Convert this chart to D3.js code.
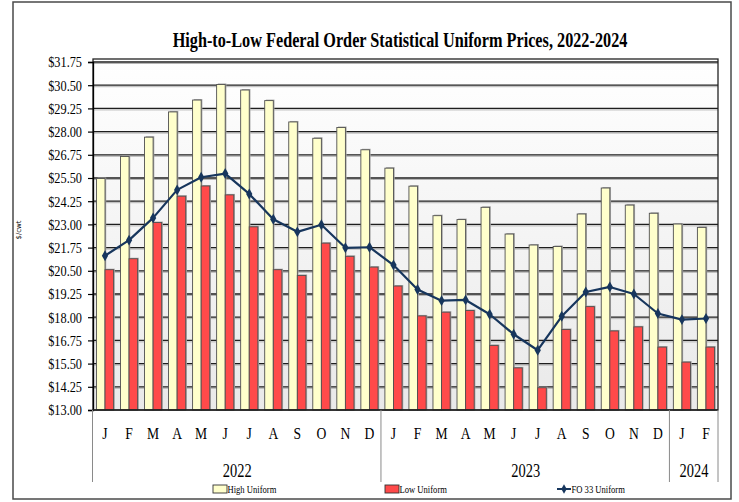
<!DOCTYPE html>
<html>
<head>
<meta charset="utf-8">
<script src="https://cdn.jsdelivr.net/npm/d3@7"></script>
<style>
  body { margin: 0; background: #fff; }
  text { font-family: "Liberation Serif", "Times New Roman", serif; fill: #000; }
</style>
</head>
<body>
<div id="chart"></div>
<script>
// month letters, one per bar group
let months = ['J','F','M','A','M','J','J','A','S','O','N','D',
              'J','F','M','A','M','J','J','A','S','O','N','D',
              'J','F'];
let yearLabels = ['2022','2023','2024'];
let yearCounts = [12, 12, 2];

let highUniform = [25.47, 26.66, 27.70, 29.06, 29.70, 30.54, 30.24, 29.67, 28.52, 27.64, 28.22, 27.02,
                   26.03, 25.06, 23.47, 23.26, 23.92, 22.48, 21.89, 21.81, 23.56, 24.96, 24.04, 23.60,
                   23.02, 22.84];
let lowUniform = [20.56, 21.15, 23.10, 24.52, 25.07, 24.59, 22.87, 20.56, 20.25, 21.99, 21.28, 20.70,
                  19.68, 18.07, 18.27, 18.36, 16.48, 15.27, 14.20, 17.34, 18.57, 17.26, 17.48, 16.39,
                  15.58, 16.39];
let fo33Uniform = [21.31, 22.15, 23.35, 24.86, 25.54, 25.74, 24.64, 23.28, 22.60, 22.98, 21.74, 21.77,
                   20.81, 19.49, 18.89, 18.93, 18.16, 17.08, 16.22, 18.05, 19.36, 19.63, 19.25, 18.20,
                   17.87, 17.93];
let yTicks = d3.range(13, 31.76, 1.25);

let w = 739, h = 502;
let pLeft = 93, pRight = 718, pTop = 62, pBottom = 410;

// squeeze text horizontally, the original is a narrow Times face
function condense(sel, factor){
    sel.each(function(){
        let len = this.getComputedTextLength();
        d3.select(this).attr('textLength', len*factor).attr('lengthAdjust','spacingAndGlyphs');
    });
}

let svg = d3.select('#chart').append('svg')
    .attr('width', w)
    .attr('height', h);

let defs = svg.append('defs');
let grad = defs.append('linearGradient')
    .attr('id','bg')
    .attr('x1',0).attr('y1',0).attr('x2',0).attr('y2',1);
grad.append('stop').attr('offset','0%').attr('stop-color','#ffffff');
grad.append('stop').attr('offset','100%').attr('stop-color','#e9e9e9');

// outer frame
svg.append('rect')
    .attr('x',13).attr('y',2)
    .attr('width',718).attr('height',497)
    .attr('fill','none')
    .attr('stroke','#4a4a4a')
    .attr('stroke-width',1.5);

let idx = d3.range(months.length);

let x = d3.scaleBand()
    .domain(idx)
    .range([pLeft, pRight])
    .padding(0);

let xs = d3.scaleBand()
    .domain(['high','low'])
    .range([0, x.bandwidth()])
    .paddingInner(0)
    .paddingOuter(0.4);

let y = d3.scaleLinear()
    .domain([13, 31.75])
    .range([pBottom, pTop]);

// plot background
svg.append('rect')
    .attr('x', pLeft).attr('y', pTop-3)
    .attr('width', pRight-pLeft).attr('height', pBottom-pTop+3)
    .attr('fill','url(#bg)');

// gridlines with a soft shadow line under each
let yAxis = d3.axisLeft(y)
    .tickValues(yTicks)
    .tickSize(5)
    .tickFormat(function(d){ return '$' + d.toFixed(2); });

svg.selectAll('gridshadow')
    .data(yTicks.slice(1))
    .enter()
    .append('line')
    .attr('x1', pLeft).attr('x2', pRight)
    .attr('y1', function(d){ return y(d)+1.5; })
    .attr('y2', function(d){ return y(d)+1.5; })
    .attr('stroke','#b5b5b5')
    .attr('stroke-width',1);

svg.selectAll('grid')
    .data(yTicks.slice(1))
    .enter()
    .append('line')
    .attr('x1', pLeft).attr('x2', pRight)
    .attr('y1', function(d){ return y(d); })
    .attr('y2', function(d){ return y(d); })
    .attr('stroke','#1e1e1e')
    .attr('stroke-width',1.3);

// bars, each with a grey shadow behind
let series = [
    {key:'high', values: highUniform, fill:'#ffffcc'},
    {key:'low', values: lowUniform, fill:'#ff4a4a'}
];

series.forEach(function(s){
    svg.selectAll('shadow'+s.key)
        .data(s.values)
        .enter()
        .append('rect')
        .attr('x', function(d,i){ return x(i) + xs(s.key) + 1.2; })
        .attr('y', function(d){ return y(d) - 1; })
        .attr('width', xs.bandwidth())
        .attr('height', function(d){ return pBottom - y(d) + 1; })
        .attr('fill','#a8a8a8');

    svg.selectAll('bar'+s.key)
        .data(s.values)
        .enter()
        .append('rect')
        .attr('x', function(d,i){ return x(i) + xs(s.key); })
        .attr('y', function(d){ return y(d); })
        .attr('width', xs.bandwidth())
        .attr('height', function(d){ return pBottom - y(d); })
        .attr('fill', s.fill)
        .attr('stroke','#505050')
        .attr('stroke-width',0.9);
});

// plot border
svg.append('rect')
    .attr('x', pLeft).attr('y', pTop-3)
    .attr('width', pRight-pLeft).attr('height', pBottom-pTop+3)
    .attr('fill','none')
    .attr('stroke','#222')
    .attr('stroke-width',1.3);

// FO 33 line
let line = d3.line()
    .x(function(d,i){ return x(i) + x.bandwidth()/2; })
    .y(function(d){ return y(d); });

svg.append('path')
    .datum(fo33Uniform)
    .attr('d', line)
    .attr('fill','none')
    .attr('stroke','#17365d')
    .attr('stroke-width',2.2)
    .attr('stroke-linejoin','round');

let diamond = d3.symbol().type(d3.symbolDiamond).size(34);

svg.selectAll('fomarks')
    .data(fo33Uniform)
    .enter()
    .append('path')
    .attr('d', diamond)
    .attr('transform', function(d,i){
        return 'translate(' + (x(i) + x.bandwidth()/2) + ',' + y(d) + ')';
    })
    .attr('fill','#17365d');

// y axis
let gy = svg.append('g')
    .attr('transform','translate(' + pLeft + ',0)')
    .call(yAxis);
gy.select('.domain').attr('stroke','#000').attr('stroke-width',1.3);
gy.selectAll('.tick line').attr('stroke','#000').attr('stroke-width',1.2);
gy.selectAll('.tick text')
    .attr('x',-11)
    .style('font-family','"Liberation Serif", serif')
    .style('font-size','15px')
    .attr('fill','#000')
    .call(condense, 0.82);

svg.append('text')
    .attr('transform','translate(21,230) rotate(-90)')
    .style('text-anchor','middle')
    .style('font-family','"DejaVu Sans", sans-serif')
    .style('font-size','7px')
    .attr('fill','#333')
    .text('$/cwt');

// x axis baseline
svg.append('line')
    .attr('x1', pLeft).attr('x2', pRight)
    .attr('y1', pBottom).attr('y2', pBottom)
    .attr('stroke','#222')
    .attr('stroke-width',1.3);

// month letters
svg.selectAll('monthlabs')
    .data(months)
    .enter()
    .append('text')
    .attr('x', function(d,i){ return x(i) + x.bandwidth()/2; })
    .attr('y', 439)
    .style('text-anchor','middle')
    .style('font-size','17px')
    .text(function(d){ return d; })
    .call(condense, 0.8);

// year groups with separators
let start = 0;
let bounds = [0];
yearCounts.forEach(function(c){ start += c; bounds.push(start); });

svg.selectAll('yearsep')
    .data(bounds)
    .enter()
    .append('line')
    .attr('x1', function(d){ return d < months.length ? x(d) - 0.5 : pRight; })
    .attr('x2', function(d){ return d < months.length ? x(d) - 0.5 : pRight; })
    .attr('y1', pBottom)
    .attr('y2', 482)
    .attr('stroke','#8a8a8a')
    .attr('stroke-width',1);

svg.selectAll('yearlabs')
    .data(yearLabels)
    .enter()
    .append('text')
    .attr('x', function(d,i){
        let a = x(bounds[i]);
        let b = bounds[i+1] < months.length ? x(bounds[i+1]) : pRight;
        return (a+b)/2;
    })
    .attr('y', 477)
    .style('text-anchor','middle')
    .style('font-size','19px')
    .text(function(d){ return d; })
    .call(condense, 0.76);

// legend
let legend = [
    {label:'High Uniform', type:'bar', fill:'#ffffcc', x:213},
    {label:'Low Uniform', type:'bar', fill:'#ff4a4a', x:385},
    {label:'FO 33 Uniform', type:'line', fill:'#17365d', x:557}
];

legend.forEach(function(l){
    if(l.type == 'bar'){
        svg.append('rect')
            .attr('x', l.x).attr('y', 485)
            .attr('width', 14).attr('height', 8)
            .attr('fill', l.fill)
            .attr('stroke','#333')
            .attr('stroke-width',0.9);
    } else {
        svg.append('line')
            .attr('x1', l.x).attr('x2', l.x+14)
            .attr('y1', 489).attr('y2', 489)
            .attr('stroke', l.fill)
            .attr('stroke-width',2);
        svg.append('path')
            .attr('d', d3.symbol().type(d3.symbolDiamond).size(26))
            .attr('transform','translate(' + (l.x+7) + ',489)')
            .attr('fill', l.fill);
    }
    svg.append('text')
        .attr('x', l.x + 14.5)
        .attr('y', 493)
        .style('font-size','11px')
        .text(l.label)
        .call(condense, 0.78);
});

// title, squeezed to the narrow width of the original
let title = svg.append('text')
    .attr('x', 0)
    .attr('y', 0)
    .style('text-anchor','middle')
    .style('font-size','22px')
    .style('font-weight','bold')
    .text('High-to-Low Federal Order Statistical Uniform Prices, 2022-2024');
let tLen = title.node().getComputedTextLength();
title.attr('transform','translate(400,47) scale(' + (455/tLen) + ',1)');
</script>
</body>
</html>
